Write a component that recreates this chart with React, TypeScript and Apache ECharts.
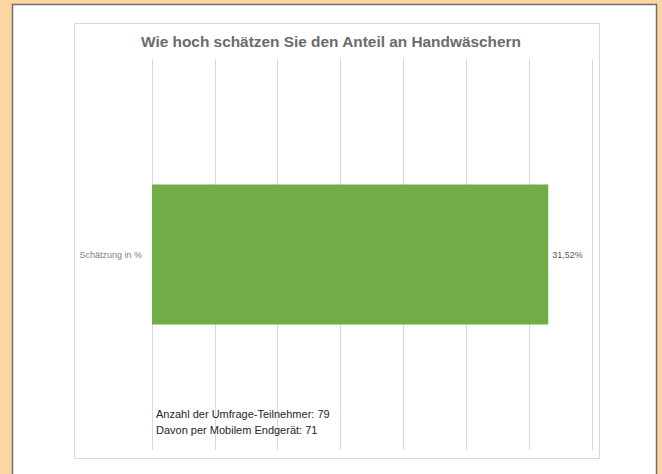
import React, { useEffect, useRef } from "react";
import * as echarts from "echarts";

const categories: string[] = ["Schätzung in %"];
const values: number[] = [31.52];
const titleText = "Wie hoch schätzen Sie den Anteil an Handwäschern";
const noteLines: string[] = ["Anzahl der Umfrage-Teilnehmer: 79", "Davon per Mobilem Endgerät: 71"];
const axisMin = 0;
const axisMax = 35;
const axisInterval = 5;

const FONT = "'Liberation Sans', Arial, sans-serif";

export default function App() {
  const ref = useRef<HTMLDivElement>(null);
  useEffect(() => {
    if (!ref.current) return;
    const chart = echarts.init(ref.current, undefined, { renderer: "svg" });
    chart.setOption({
      animation: false,
      backgroundColor: "#FCD5A0",
      textStyle: { fontFamily: FONT },
      graphic: [
        {
          type: "rect",
          z: -10,
          silent: true,
          shape: { x: 12.5, y: 4.5, width: 644, height: 480 },
          style: { fill: "#ffffff", stroke: "#6e6e6e", lineWidth: 1.5 },
        },
        {
          type: "rect",
          z: -9,
          silent: true,
          shape: { x: 74.5, y: 23.5, width: 525, height: 435 },
          style: { fill: "#ffffff", stroke: "#d9d9d9", lineWidth: 1 },
        },
        {
          type: "text",
          z: 10,
          x: 156,
          y: 406,
          style: {
            text: noteLines.join("\n"),
            font: `11px ${FONT}`,
            fill: "#262626",
            lineHeight: 16,
          },
        },
      ],
      title: {
        text: titleText,
        left: "center",
        top: 29,
        textStyle: { fontSize: 15.4, fontWeight: "bold", color: "#6b6b6b", fontFamily: FONT },
      },
      grid: { left: 152, right: 70, top: 59, bottom: 24, containLabel: false },
      xAxis: {
        type: "value",
        min: axisMin,
        max: axisMax,
        interval: axisInterval,
        axisLabel: { show: false },
        axisLine: { show: false },
        axisTick: { show: false },
        splitLine: { show: true, lineStyle: { color: "#d9d9d9", width: 1 } },
      },
      yAxis: {
        type: "category",
        data: categories,
        axisLine: { show: false },
        axisTick: { show: false },
        axisLabel: { color: "#808080", fontSize: 9, margin: 10, fontFamily: FONT },
      },
      series: [
        {
          type: "bar",
          data: values,
          barWidth: 140,
          itemStyle: { color: "#70AD47" },
          label: {
            show: true,
            position: "right",
            distance: 4,
            color: "#595959",
            fontSize: 9,
            fontFamily: FONT,
            formatter: (p: any) => p.value.toFixed(2).replace(".", ",") + "%",
          },
        },
      ],
    });
    return () => chart.dispose();
  }, []);
  return (
    <div
      ref={ref}
      style={{ position: "fixed", left: 0, top: 0, width: 662, height: 474 }}
    />
  );
}
